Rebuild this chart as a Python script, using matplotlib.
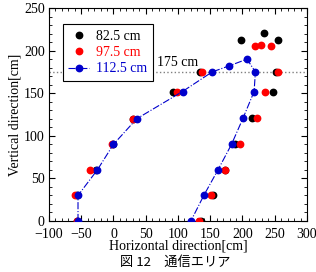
import matplotlib.pyplot as plt
from matplotlib.ticker import MultipleLocator

plt.rcParams['font.family'] = ['Liberation Serif', 'Noto Sans CJK JP']
plt.rcParams['font.size'] = 10

# 82.5 cm (black)
black_x = [-56, -57, -27, -1, 31, 92, 134, 198, 233, 255, 252, 248, 215, 189, 173, 154, 136]
black_y = [0, 30, 60, 90, 120, 152, 175, 212, 221, 212, 175, 152, 121, 90, 60, 30, 0]

# 97.5 cm (red)
red_x = [-57, -59, -36, -2, 30, 98, 138, 219, 229, 244, 255, 235, 222, 196, 173, 151, 133]
red_y = [0, 30, 60, 90, 120, 152, 175, 205, 207, 205, 175, 152, 121, 90, 60, 30, 0]

# 112.5 cm (blue, connected)
blue_x = [-55, -55, -25, 0, 36, 107, 153, 179, 207, 220, 218, 201, 183, 162, 140, 120]
blue_y = [0, 30, 60, 90, 120, 152, 175, 182, 190, 175, 152, 121, 90, 60, 30, 0]

fig = plt.figure(figsize=(3.16, 2.72), dpi=100)
ax = fig.add_axes([0.155, 0.1875, 0.8165, 0.783])

ax.axhline(175, color='#808080', linestyle=':', linewidth=1.0, zorder=1)
ax.text(67, 178, '175 cm', fontsize=10, ha='left', va='bottom')

ax.plot(black_x, black_y, 'o', color='black', markersize=4.6, linestyle='none',
        label='82.5 cm', zorder=2)
ax.plot(red_x, red_y, 'o', color='red', markersize=4.6, linestyle='none',
        label='97.5 cm', zorder=3)
ax.plot(blue_x, blue_y, 'o', color='#0000cc', markersize=4.6, linestyle='-.',
        linewidth=0.8, label='112.5 cm', zorder=4)

ax.set_xlim(-100, 300)
ax.set_ylim(0, 250)
ax.xaxis.set_major_locator(MultipleLocator(50))
ax.xaxis.set_minor_locator(MultipleLocator(10))
ax.yaxis.set_major_locator(MultipleLocator(50))
ax.yaxis.set_minor_locator(MultipleLocator(10))
ax.tick_params(which='both', direction='in', top=True, right=True, labelsize=10)
ax.tick_params(axis='x', pad=5)
ax.tick_params(axis='y', pad=3)
ax.tick_params(which='major', length=4)
ax.tick_params(which='minor', length=2)

ax.set_xlabel('Horizontal direction[cm]', fontsize=10, labelpad=-1)
ax.set_ylabel('Vertical direction[cm]', fontsize=10, labelpad=2)

leg = ax.legend(loc='upper left', bbox_to_anchor=(0.054, 0.925), borderaxespad=0,
                frameon=True, fancybox=False, edgecolor='black', framealpha=1,
                fontsize=10, handlelength=1.5, handletextpad=0.5, labelspacing=0.25,
                borderpad=0.4)
leg.get_frame().set_linewidth(0.8)
for txt, c in zip(leg.get_texts(), ['black', 'red', '#0000cc']):
    txt.set_color(c)

fig.text(0.555, 0.036, '図 12\u3000通信エリア', fontsize=9.5, ha='center', va='center',
         family=['Noto Sans CJK JP', 'DejaVu Sans'])

fig.savefig('out.png', dpi=100)
